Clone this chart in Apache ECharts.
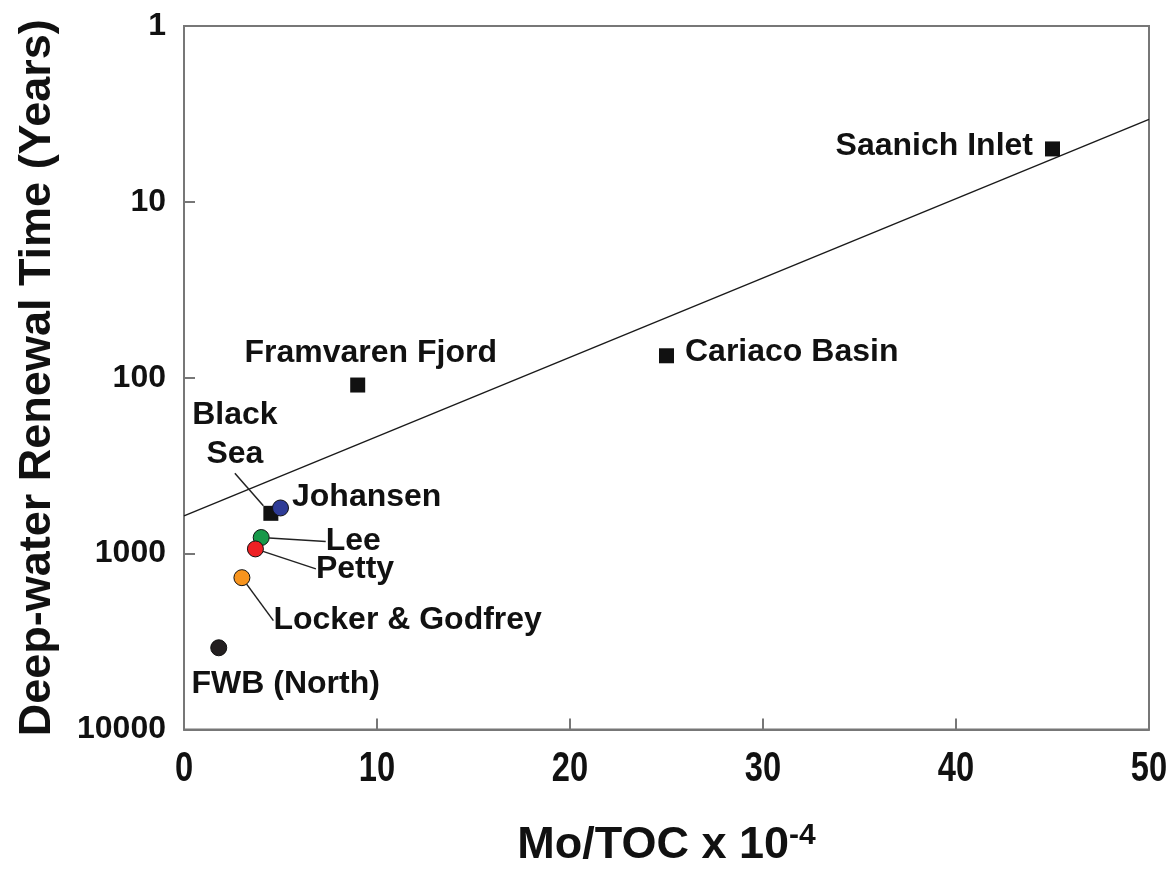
<!DOCTYPE html>
<html>
<head>
<meta charset="utf-8">
<script src="https://cdn.jsdelivr.net/npm/echarts@6/dist/echarts.min.js"></script>
<style>
html, body { margin: 0; padding: 0; background: #ffffff; }
#chart { width: 1174px; height: 873px; }
</style>
</head>
<body>
<div id="chart"></div>
<script>
// Mo/TOC ratio of anoxic basins against their deep-water renewal time
const sites = ['Saanich Inlet', 'Cariaco Basin', 'Framvaren Fjord', 'Black Sea', 'Johansen', 'Lee', 'Petty', 'Locker & Godfrey', 'FWB (North)'];
const moToc = [45, 25, 9, 4.5, 5, 4, 3.7, 3, 1.8];
const renewalYears = [5, 75, 110, 590, 550, 810, 940, 1370, 3430];
const markerShape = ['rect', 'rect', 'rect', 'rect', 'circle', 'circle', 'circle', 'circle', 'circle'];
const markerColor = ['#111111', '#111111', '#111111', '#111111', '#2e3b96', '#17994a', '#ee2024', '#f7941e', '#231f20'];

// Regression line end points
const trendX = [0, 50];
const trendY = [610, 3.4];

// Axis ticks
const xTicks = [0, 10, 20, 30, 40, 50];
const yTickLabels = ['1', '10', '100', '1000', '10000'];
const yMin = 1;
const yMax = 10000;

const FONT = '"Liberation Sans", Arial, Helvetica, sans-serif';
const INK = '#111111';
const AXIS_GREY = '#777777';

// Where each site's label sits relative to its marker
const labelPlacement = {
  'Saanich Inlet':    { position: 'left',   distance: 12, shift: [0, -3] },
  'Cariaco Basin':    { position: 'right',  distance: 11, shift: [0, -4] },
  'Framvaren Fjord':  { position: 'top',    distance: 11, shift: [13, 3] },
  'Black Sea':        { position: 'inside', text: 'Black\nSea', lineHeight: 39, shift: [-36, -79], line: true },
  'Johansen':         { position: 'right',  distance: 3, shift: [0, -11] },
  'Lee':              { position: 'right',  padding: [0, 0, 0, 8], shift: [43, 4], line: true },
  'Petty':            { position: 'right',  padding: [0, 0, 0, 8], shift: [39, 20], line: true },
  'Locker & Godfrey': { position: 'right',  padding: [0, 0, 0, 5], shift: [13, 43], line: true },
  'FWB (North)':      { position: 'bottom', distance: 9, shift: [67, 3] }
};

const pointData = sites.map((name, i) => {
  const p = labelPlacement[name];
  const isCircle = markerShape[i] === 'circle';
  const label = {
    show: true,
    position: p.position,
    formatter: p.text || '{b}',
    fontFamily: FONT,
    fontWeight: 'bold',
    fontSize: 32,
    color: INK
  };
  if (p.distance != null) label.distance = p.distance;
  if (p.padding) label.padding = p.padding;
  if (p.lineHeight) { label.lineHeight = p.lineHeight; label.align = 'center'; }
  return {
    name: name,
    value: [moToc[i], renewalYears[i]],
    symbol: markerShape[i],
    symbolSize: isCircle ? 16 : 15,
    itemStyle: {
      color: markerColor[i],
      opacity: 1,
      borderColor: isCircle ? '#111111' : markerColor[i],
      borderWidth: isCircle ? 1 : 0
    },
    label: label,
    labelLine: { show: !!p.line, lineStyle: { color: '#222222', width: 1.5, opacity: 1 } }
  };
});

const chart = echarts.init(document.getElementById('chart'), null, { renderer: 'canvas' });

chart.setOption({
  animation: false,
  backgroundColor: '#ffffff',
  grid: {
    left: 184, right: 25, top: 26, bottom: 143,
    show: true, borderColor: AXIS_GREY, borderWidth: 2, backgroundColor: 'transparent'
  },
  xAxis: {
    type: 'value',
    min: xTicks[0],
    max: xTicks[xTicks.length - 1],
    interval: xTicks[1] - xTicks[0],
    name: '{b|Mo/TOC x 10}{s|-4}',
    nameLocation: 'middle',
    nameGap: 91,
    nameTextStyle: {
      rich: {
        b: { fontFamily: FONT, fontWeight: 'bold', fontSize: 45, lineHeight: 50, color: INK },
        s: { fontFamily: FONT, fontWeight: 'bold', fontSize: 30, lineHeight: 21, verticalAlign: 'top', color: INK }
      }
    },
    axisLine: { show: true, lineStyle: { color: AXIS_GREY, width: 2 } },
    axisTick: { show: true, inside: true, length: 11, lineStyle: { color: AXIS_GREY, width: 2 } },
    // Tick labels are drawn condensed by the custom series below
    axisLabel: { show: false },
    splitLine: { show: false }
  },
  yAxis: {
    type: 'log',
    logBase: 10,
    min: yMin,
    max: yMax,
    inverse: true,
    name: 'Deep-water Renewal Time (Years)',
    nameLocation: 'middle',
    nameGap: 124,
    nameTextStyle: { fontFamily: FONT, fontWeight: 'bold', fontSize: 45, color: INK },
    axisLine: { show: true, lineStyle: { color: AXIS_GREY, width: 2 } },
    axisTick: { show: true, inside: true, length: 11, lineStyle: { color: AXIS_GREY, width: 2 } },
    axisLabel: {
      fontFamily: FONT, fontWeight: 'bold', fontSize: 32, color: INK, margin: 18,
      formatter: (v) => yTickLabels[Math.round(Math.log10(v))]
    },
    splitLine: { show: false },
    minorTick: { show: false }
  },
  series: [
    {
      name: 'trend',
      type: 'line',
      silent: true,
      symbol: 'none',
      z: 1,
      lineStyle: { color: '#1a1a1a', width: 1.4 },
      data: trendX.map((x, i) => [x, trendY[i]])
    },
    {
      name: 'sites',
      type: 'scatter',
      z: 3,
      data: pointData,
      labelLayout: function (params) {
        const p = labelPlacement[sites[params.dataIndex]];
        return p && p.shift ? { dx: p.shift[0], dy: p.shift[1] } : {};
      }
    },
    {
      // Condensed x tick labels placed under each tick on the bottom axis
      name: 'x tick labels',
      type: 'custom',
      silent: true,
      clip: false,
      z: 4,
      data: xTicks.map((v) => [v, yMax]),
      renderItem: function (params, api) {
        const pt = api.coord([api.value(0), api.value(1)]);
        return {
          type: 'text',
          x: pt[0],
          y: pt[1] + 18,
          scaleX: 0.76,
          style: {
            text: String(api.value(0)),
            font: 'bold 43px "Liberation Sans", Arial, sans-serif',
            textAlign: 'center',
            textVerticalAlign: 'top',
            fill: INK
          }
        };
      }
    }
  ]
});
</script>
</body>
</html>
